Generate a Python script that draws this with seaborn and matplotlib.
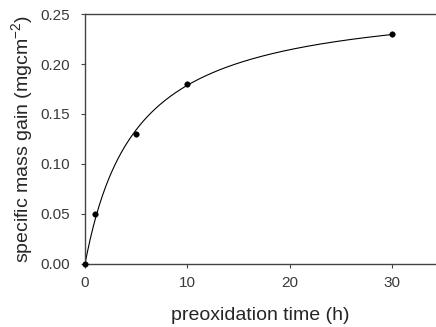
import numpy as np
import pandas as pd
import matplotlib
matplotlib.use("Agg")
import matplotlib.pyplot as plt
import seaborn as sns

# measured points
time_h = [0, 1, 5, 10, 30]
mass_gain = [0.00, 0.05, 0.13, 0.18, 0.23]

x_ticks = [0, 10, 20, 30]
y_ticks = [0.00, 0.05, 0.10, 0.15, 0.20, 0.25]

sns.set_style("white")
plt.rcParams["font.family"] = ["Liberation Sans", "DejaVu Sans"]
plt.rcParams["mathtext.fontset"] = "custom"
plt.rcParams["mathtext.rm"] = "Liberation Sans"

df = pd.DataFrame({"t": time_h, "m": mass_gain})

# hyperbola fit y = a*x/(b+x), least squares over b with closed-form a
t = np.array(time_h, float)
m = np.array(mass_gain, float)
best = None
for b in np.linspace(0.5, 20, 4000):
    g = t / (b + t)
    a = (g @ m) / (g @ g)
    err = ((a * g - m) ** 2).sum()
    if best is None or err < best[0]:
        best = (err, a, b)
_, a_fit, b_fit = best
tt = np.linspace(0, 30, 300)
fit = pd.DataFrame({"t": tt, "m": a_fit * tt / (b_fit + tt)})

fig = plt.figure(figsize=(4.36, 3.27), dpi=100)
ax = fig.add_axes([0.195, 0.193, 0.805, 0.764])

sns.lineplot(data=fit, x="t", y="m", ax=ax, color="black", lw=0.8)
sns.scatterplot(data=df, x="t", y="m", ax=ax, color="black", s=16,
                edgecolor="black", zorder=5, clip_on=False)

ax.set_xlim(0, 34.3)
ax.set_ylim(0, 0.25)
ax.set_xticks(x_ticks)
ax.set_yticks(y_ticks)
ax.set_yticklabels([f"{v:.2f}" for v in y_ticks])

for s in ["left", "bottom", "top"]:
    ax.spines[s].set_color("#444444")
    ax.spines[s].set_linewidth(1.0)
ax.spines["right"].set_visible(False)

ax.tick_params(axis="both", direction="out", length=3, width=0.8,
               color="#444444", labelsize=11, labelcolor="#3a3a3a",
               bottom=True, left=True)
ax.tick_params(axis="y", pad=8)
ax.tick_params(axis="x", pad=6)

ax.set_xlabel("preoxidation time (h)", fontsize=14, labelpad=12)
ax.set_ylabel("specific mass gain (mgcm$^{\\mathrm{-2}}$)", fontsize=14, labelpad=3)

fig.savefig("out.png", dpi=100)
